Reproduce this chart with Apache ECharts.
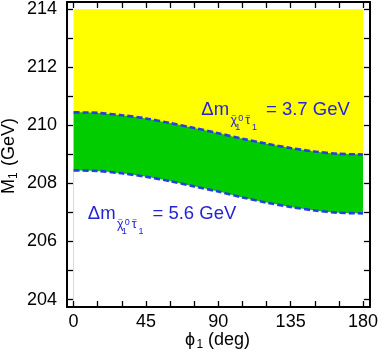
<!DOCTYPE html>
<html><head><meta charset="utf-8">
<script src="https://cdn.jsdelivr.net/npm/echarts@6/dist/echarts.min.js"></script>
<style>html,body{margin:0;padding:0;background:#fff}#c{width:381px;height:356px}</style>
</head><body><div id="c"></div>
<script>
// ---- data ----
const phi = [0, 15, 30, 45, 60, 75, 90, 105, 120, 135, 150, 165, 180];
const upperM = [210.45, 210.43, 210.35, 210.24, 210.08, 209.91, 209.73, 209.54, 209.37, 209.22, 209.10, 209.02, 209.00];
const lowerM = [208.45, 208.43, 208.35, 208.23, 208.08, 207.90, 207.72, 207.52, 207.34, 207.19, 207.07, 206.99, 206.97];
const topM = 214;
const xTickLabels = [0, 45, 90, 135, 180];
const xTicks = [0, 15, 30, 45, 60, 75, 90, 105, 120, 135, 150, 165, 180];
const yTickLabels = [204, 206, 208, 210, 212, 214];
const yTicks = [204, 205, 206, 207, 208, 209, 210, 211, 212, 213, 214];
const labelUpper = '3.7';
const labelLower = '5.6';

const FONT = '"Liberation Sans", Arial, sans-serif';
const BLUE = '#2323d6';
const LINEBLUE = '#2a3ee0';
const chart = echarts.init(document.getElementById('c'), null, {renderer: 'canvas'});

const X_MIN = -4.1, X_MAX = 184.3, Y_MIN = 203.745, Y_MAX = 214.25;

function xAxisCfg(pos, showLabel) {
  return {
    type: 'value', position: pos, min: X_MIN, max: X_MAX, z: 10,
    axisLine: {show: true, onZero: false, lineStyle: {color: '#000', width: 2}},
    axisTick: {show: true, inside: true, length: 6, customValues: xTicks, lineStyle: {color: '#000', width: 1.3}},
    axisLabel: {show: showLabel, customValues: xTickLabels, fontSize: 18, color: '#000', margin: 6, fontFamily: FONT},
    splitLine: {show: false}
  };
}
function yAxisCfg(pos, showLabel) {
  return {
    type: 'value', position: pos, min: Y_MIN, max: Y_MAX, z: 10,
    axisLine: {show: true, onZero: false, lineStyle: {color: '#000', width: 2}},
    axisTick: {show: true, inside: true, length: 6, customValues: yTicks, lineStyle: {color: '#000', width: 1.3}},
    axisLabel: {show: showLabel, customValues: yTickLabels, fontSize: 18, color: '#000', margin: 10, fontFamily: FONT},
    splitLine: {show: false}
  };
}

function pairs(ys) { return phi.map((p, i) => [p, ys[i]]); }
function areaSeries(ys, color, z) {
  return {
    type: 'line', data: pairs(ys), symbol: 'none', smooth: 0.3, silent: true, z: z,
    lineStyle: {width: 0, opacity: 0},
    areaStyle: {color: color, opacity: 1, origin: 'start'}
  };
}
function dashSeries(ys) {
  return {
    type: 'line', data: pairs(ys), symbol: 'none', smooth: 0.3, silent: true, z: 5,
    lineStyle: {color: LINEBLUE, width: 2.6, type: [6, 3]}
  };
}

function deltaLabel(x, cy, val) {
  const s = (t, fs) => ({text: t, fontSize: fs, fontFamily: FONT, fill: BLUE, align: 'left', verticalAlign: 'middle'});
  const t = (dx, dy, txt, fs) => ({type: 'text', x: x + dx, y: cy + dy, z: 100, style: s(txt, fs)});
  return [
    t(0, 0, 'Δm', 18.5),
    t(29.3, 10.5, 'χ', 12.5),
    t(30.3, 5.2, '~', 8),
    t(34, 17.5, '1', 9),
    t(37, 8, '0', 9),
    t(44, 10.5, 'τ', 12.5),
    t(44.5, 5.2, '~', 8),
    t(50.8, 17.5, '1', 9),
    t(64.7, 0, '= ' + val + ' GeV', 18.5)
  ];
}

const tstyle = (t, fs) => ({text: t, fontSize: fs, fontFamily: FONT, fill: '#000', align: 'left', verticalAlign: 'middle'});

chart.setOption({
  animation: false,
  backgroundColor: '#fff',
  grid: {left: 67, right: 8, top: 2, bottom: 49, containLabel: false},
  xAxis: [xAxisCfg('bottom', true), xAxisCfg('top', false)],
  yAxis: [yAxisCfg('left', true), yAxisCfg('right', false)],
  series: [
    areaSeries(phi.map(() => topM), '#ffff00', 1),
    areaSeries(upperM, '#00cc00', 2),
    areaSeries(lowerM, '#ffffff', 3),
    dashSeries(upperM),
    dashSeries(lowerM)
  ],
  graphic: {
    elements: [].concat(
      deltaLabel(201.3, 110.2, labelUpper),
      deltaLabel(87.8, 214.3, labelLower),
      [
        {type: 'group', x: 185, y: 340, children: [
          {type: 'text', x: 0, y: 0, style: tstyle('ϕ', 18)},
          {type: 'text', x: 11.5, y: 4.5, style: tstyle('1', 12)},
          {type: 'text', x: 18, y: 0, style: tstyle(' (deg)', 18)}
        ]},
        {type: 'group', x: 9, y: 152, rotation: Math.PI / 2, children: [
          {type: 'text', x: -42, y: 0, style: tstyle('M', 18)},
          {type: 'text', x: -27, y: 4.5, style: tstyle('1', 12)},
          {type: 'text', x: -19, y: 0, style: tstyle(' (GeV)', 18)}
        ]}
      ]
    )
  }
});
</script></body></html>
